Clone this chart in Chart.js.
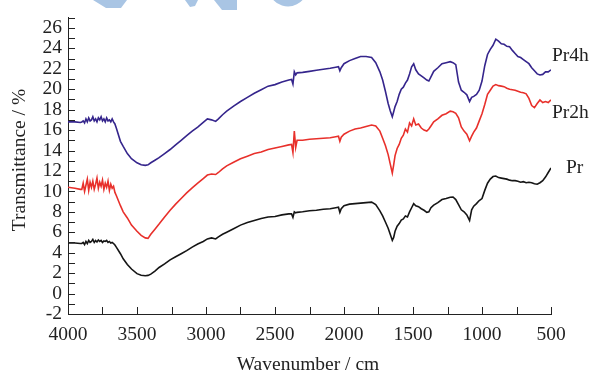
<!DOCTYPE html>
<html lang="en">
<head>
<meta charset="UTF-8">
<title>FTIR spectra - Pr, Pr2h, Pr4h</title>
<script src="https://cdn.jsdelivr.net/npm/chart.js"></script>
<style>
  html, body { margin: 0; padding: 0; background: #fff; }
  #wrap { width: 593px; height: 371px; }
</style>
</head>
<body>
<div id="wrap"><canvas id="ftir"></canvas></div>
<script>
// wavenumber (cm-1) sample points
const wavenumbers = [4000, 3950, 3910,
  3900, 3890, 3880, 3870, 3860, 3850, 3840, 3830, 3820, 3810, 3800, 3790, 3780, 3770, 3760, 3750, 3740, 3730, 3720, 3710, 3700, 3690, 3680, 3670, 3660,
  3650, 3620, 3600, 3570, 3540, 3500,
  3470, 3440, 3420, 3400, 3370, 3340, 3300, 3260, 3220, 3180, 3140, 3100, 3060, 3020, 2990, 2960, 2930, 2910, 2880, 2850,
  2800, 2750, 2700, 2650, 2600, 2550, 2500, 2450, 2400, 2380, 2370, 2360, 2350, 2340, 2300, 2250, 2200, 2150, 2100, 2060,
  2040, 2030, 2020, 2000, 1960, 1920, 1880, 1840, 1800, 1770, 1740, 1720, 1700, 1680, 1665, 1650, 1640, 1630, 1615, 1600,
  1585, 1570, 1555, 1540, 1525, 1510, 1495, 1480, 1460, 1440, 1420, 1400, 1385, 1370, 1350, 1320, 1290, 1260, 1230, 1210,
  1190, 1170, 1150, 1130, 1110, 1090, 1075, 1060, 1040, 1020, 1000, 980, 960, 940, 920, 900, 880, 860, 840, 820,
  800, 780, 760, 740, 720, 700, 680, 660, 640, 620, 600, 580, 560, 540, 520, 500];

const pr = [4.95, 4.95, 4.9,
  4.9, 5.0, 4.8, 5.1, 4.9, 5.2, 5.0, 5.1, 5.3, 5.0, 5.2, 5.05, 5.25, 5.1, 5.2, 5.0, 5.15, 5.1, 5.2, 5.0, 5.1, 4.95, 5.0, 4.9, 4.75,
  4.55, 3.9, 3.4, 2.85, 2.4, 1.95,
  1.8, 1.75, 1.78, 1.9, 2.2, 2.55, 2.9, 3.3, 3.6, 3.9, 4.2, 4.55, 4.85, 5.1, 5.35, 5.45, 5.35, 5.55, 5.8, 6.0,
  6.35, 6.7, 6.95, 7.15, 7.35, 7.5, 7.55, 7.7, 7.8, 7.8, 7.45, 8.0, 7.9, 7.95, 8.0, 8.1, 8.15, 8.25, 8.3, 8.4,
  8.45, 7.95, 8.3, 8.6, 8.75, 8.8, 8.85, 8.9, 8.95, 8.7, 8.1, 7.6, 7.0, 6.4, 5.8, 5.2, 5.5, 6.1, 6.6, 6.85,
  7.2, 7.3, 7.6, 7.5, 8.0, 8.4, 8.8, 8.6, 8.5, 8.3, 8.15, 7.95, 8.0, 8.4, 8.65, 8.9, 9.2, 9.3, 9.42, 9.45,
  9.2, 8.7, 8.2, 8.0, 7.7, 7.15, 8.2, 8.55, 8.8, 9.1, 9.3, 10.1, 10.8, 11.2, 11.45, 11.5, 11.35, 11.3, 11.25, 11.2,
  11.1, 11.05, 11.05, 11.0, 10.9, 10.95, 10.85, 10.9, 10.85, 10.75, 10.7, 10.85, 11.05, 11.4, 11.85, 12.3];

const pr2h = [10.4, 10.3, 10.2,
  10.2, 10.8, 10.0, 10.6, 11.2, 10.1, 10.9, 10.4, 11.0, 10.2, 10.7, 11.3, 10.3, 10.9, 10.5, 11.1, 10.2, 10.8, 10.4, 11.0, 10.1, 10.7, 10.3, 10.5, 9.9,
  9.6, 8.6, 8.0, 7.4, 6.7, 6.1,
  5.7, 5.45, 5.4, 5.8, 6.3, 6.8, 7.5, 8.15, 8.75, 9.3, 9.85, 10.35, 10.8, 11.25, 11.6, 11.7, 11.65, 11.85, 12.2, 12.5,
  12.85, 13.2, 13.45, 13.7, 13.85, 14.1, 14.25, 14.4, 14.55, 14.6, 13.8, 15.9, 14.3, 15.0, 15.0, 15.1, 15.15, 15.2, 15.25, 15.35,
  15.4, 14.9, 15.3, 15.6, 15.9, 16.1, 16.2, 16.35, 16.5, 16.4, 15.9, 15.2, 14.5, 13.6, 12.7, 11.8, 12.6, 13.5, 14.2, 14.6,
  15.2, 15.5, 16.1, 15.8, 16.7, 16.4, 17.1, 16.5, 16.6, 16.2, 16.0, 15.9, 16.1, 16.4, 16.8, 17.1, 17.45, 17.6, 17.85, 17.8,
  17.65, 17.2, 16.3, 15.9, 15.6, 14.95, 15.4, 15.8, 16.2, 16.9, 17.6, 18.5, 19.5, 19.9, 20.3, 20.45, 20.35, 20.3, 20.25, 20.1,
  20.0, 19.95, 19.9, 19.8, 19.7, 19.65, 19.55, 19.1, 18.4, 18.2, 18.6, 18.95, 18.7, 18.8, 18.7, 18.95];

const pr4h = [16.8, 16.8, 16.75,
  16.8, 16.9, 16.7, 17.1, 16.8, 17.2, 16.9, 17.0, 17.3, 16.9, 17.1, 16.8, 17.2, 17.0, 17.3, 16.9, 17.1, 16.8, 17.2, 16.9, 17.0, 16.8, 17.1, 16.8, 16.6,
  16.2, 14.9, 14.4, 13.7, 13.2, 12.8,
  12.6, 12.55, 12.6, 12.8, 13.05, 13.3, 13.7, 14.1, 14.55, 15.0, 15.45, 15.9, 16.3, 16.75, 17.1, 17.0, 16.85, 17.1, 17.5, 17.85,
  18.35, 18.8, 19.2, 19.6, 19.95, 20.3, 20.45, 20.7, 20.9, 20.95, 20.5, 21.7, 21.4, 21.6, 21.65, 21.75, 21.85, 21.95, 22.05, 22.15,
  22.2, 21.8, 22.1, 22.5, 22.8, 23.0, 23.2, 23.2, 23.1, 22.6, 21.7, 20.9, 19.8, 18.6, 17.9, 17.3, 17.8, 18.3, 18.8, 19.5,
  20.0, 20.2, 20.6, 20.9, 21.5, 22.2, 22.5, 21.9, 21.5, 21.3, 21.1, 20.9, 20.8, 21.2, 21.75, 22.1, 22.5, 22.6, 22.7, 22.6,
  22.4, 20.7, 19.9, 19.7, 19.45, 18.8, 19.2, 19.3, 19.5, 19.9, 20.8, 22.3, 23.4, 23.9, 24.3, 24.9, 24.7, 24.45, 24.4, 24.2,
  24.15, 23.8, 23.5, 23.2, 23.1, 22.9, 22.7, 22.5, 22.1, 21.8, 21.5, 21.4, 21.45, 21.7, 21.7, 21.9];

const seriesNames = ["Pr", "Pr2h", "Pr4h"];
const seriesColors = ["#151515", "#e8302b", "#35258c"];

const FONT = "'Liberation Serif', 'Times New Roman', serif";

function toPoints(values) {
  return wavenumbers.map((w, i) => ({ x: w, y: values[i] }));
}

// inward tick marks, series names, axis titles and the faint watermark
const decor = {
  id: "decor",
  beforeDraw(chart) {
    const ctx = chart.ctx;
    ctx.save();
    ctx.fillStyle = "#a9c5e4";
    ctx.beginPath();
    ctx.moveTo(93, 0); ctx.lineTo(127, 0); ctx.lineTo(121, 8); ctx.lineTo(106, 8);
    ctx.closePath(); ctx.fill();
    ctx.beginPath();
    ctx.moveTo(185, 0); ctx.lineTo(198, 0); ctx.lineTo(195, 6); ctx.lineTo(190, 7);
    ctx.closePath(); ctx.fill();
    ctx.beginPath();
    ctx.moveTo(214, 0); ctx.lineTo(237, 0); ctx.lineTo(237, 10); ctx.lineTo(222, 10);
    ctx.closePath(); ctx.fill();
    ctx.strokeStyle = "#a9c5e4";
    ctx.lineWidth = 7;
    ctx.beginPath();
    ctx.arc(288, -13, 16, 0.1 * Math.PI, 0.9 * Math.PI);
    ctx.stroke();
    ctx.restore();
  },
  afterDraw(chart) {
    const ctx = chart.ctx;
    const area = chart.chartArea;
    const xs = chart.scales.x, ys = chart.scales.y;
    ctx.save();
    ctx.strokeStyle = "#222";
    ctx.lineWidth = 1;
    ctx.beginPath();
    ys.ticks.forEach((t, i) => {
      const py = Math.round(ys.getPixelForTick(i)) + 0.5;
      ctx.moveTo(area.left, py); ctx.lineTo(area.left + 7, py);
    });
    xs.ticks.forEach((t, i) => {
      const px = Math.round(xs.getPixelForTick(i)) + 0.5;
      ctx.moveTo(px, area.bottom); ctx.lineTo(px, area.bottom - 7);
    });
    ctx.stroke();

    ctx.fillStyle = "#222";
    ctx.font = "19.5px " + FONT;
    ctx.textBaseline = "alphabetic";
    ctx.textAlign = "left";
    ctx.fillText("Pr4h", 552, 61);
    ctx.fillText("Pr2h", 552, 118);
    ctx.fillText("Pr", 566, 173);

    ctx.textAlign = "center";
    ctx.fillText("Wavenumber / cm", 308, 370);
    ctx.translate(25, 160);
    ctx.rotate(-Math.PI / 2);
    ctx.fillText("Transmittance / %", 0, 0);
    ctx.restore();
  }
};

new Chart(document.getElementById("ftir"), {
  type: "line",
  data: {
    datasets: [pr, pr2h, pr4h].map((vals, i) => ({
      label: seriesNames[i],
      data: toPoints(vals),
      borderColor: seriesColors[i],
      borderWidth: 1.6,
      pointRadius: 0,
      tension: 0,
      fill: false
    }))
  },
  options: {
    responsive: true,
    maintainAspectRatio: false,
    animation: false,
    devicePixelRatio: 1,
    layout: { padding: { left: 0, right: 42, top: 15, bottom: 0 } },
    plugins: { legend: { display: false }, tooltip: { enabled: false } },
    scales: {
      x: {
        type: "linear",
        reverse: true,
        min: 500,
        max: 4000,
        afterFit: s => { s.height = 57; },
        grid: { display: true, drawOnChartArea: false, drawTicks: false },
        border: { display: true, color: "#222", width: 1 },
        ticks: {
          stepSize: 250,
          autoSkip: false,
          maxRotation: 0,
          padding: 9,
          color: "#222",
          font: { family: FONT, size: 19.5 },
          callback: v => (v % 500 === 0 ? String(v) : "")
        }
      },
      y: {
        min: -2,
        max: 27,
        afterFit: s => { s.width = 68; },
        grid: { display: true, drawOnChartArea: false, drawTicks: false },
        border: { display: true, color: "#222", width: 1 },
        ticks: {
          stepSize: 1,
          autoSkip: false,
          padding: 6,
          color: "#222",
          font: { family: FONT, size: 19.5 },
          callback: v => (v % 2 === 0 ? String(v) : "")
        }
      }
    }
  },
  plugins: [decor]
});
</script>
</body>
</html>
